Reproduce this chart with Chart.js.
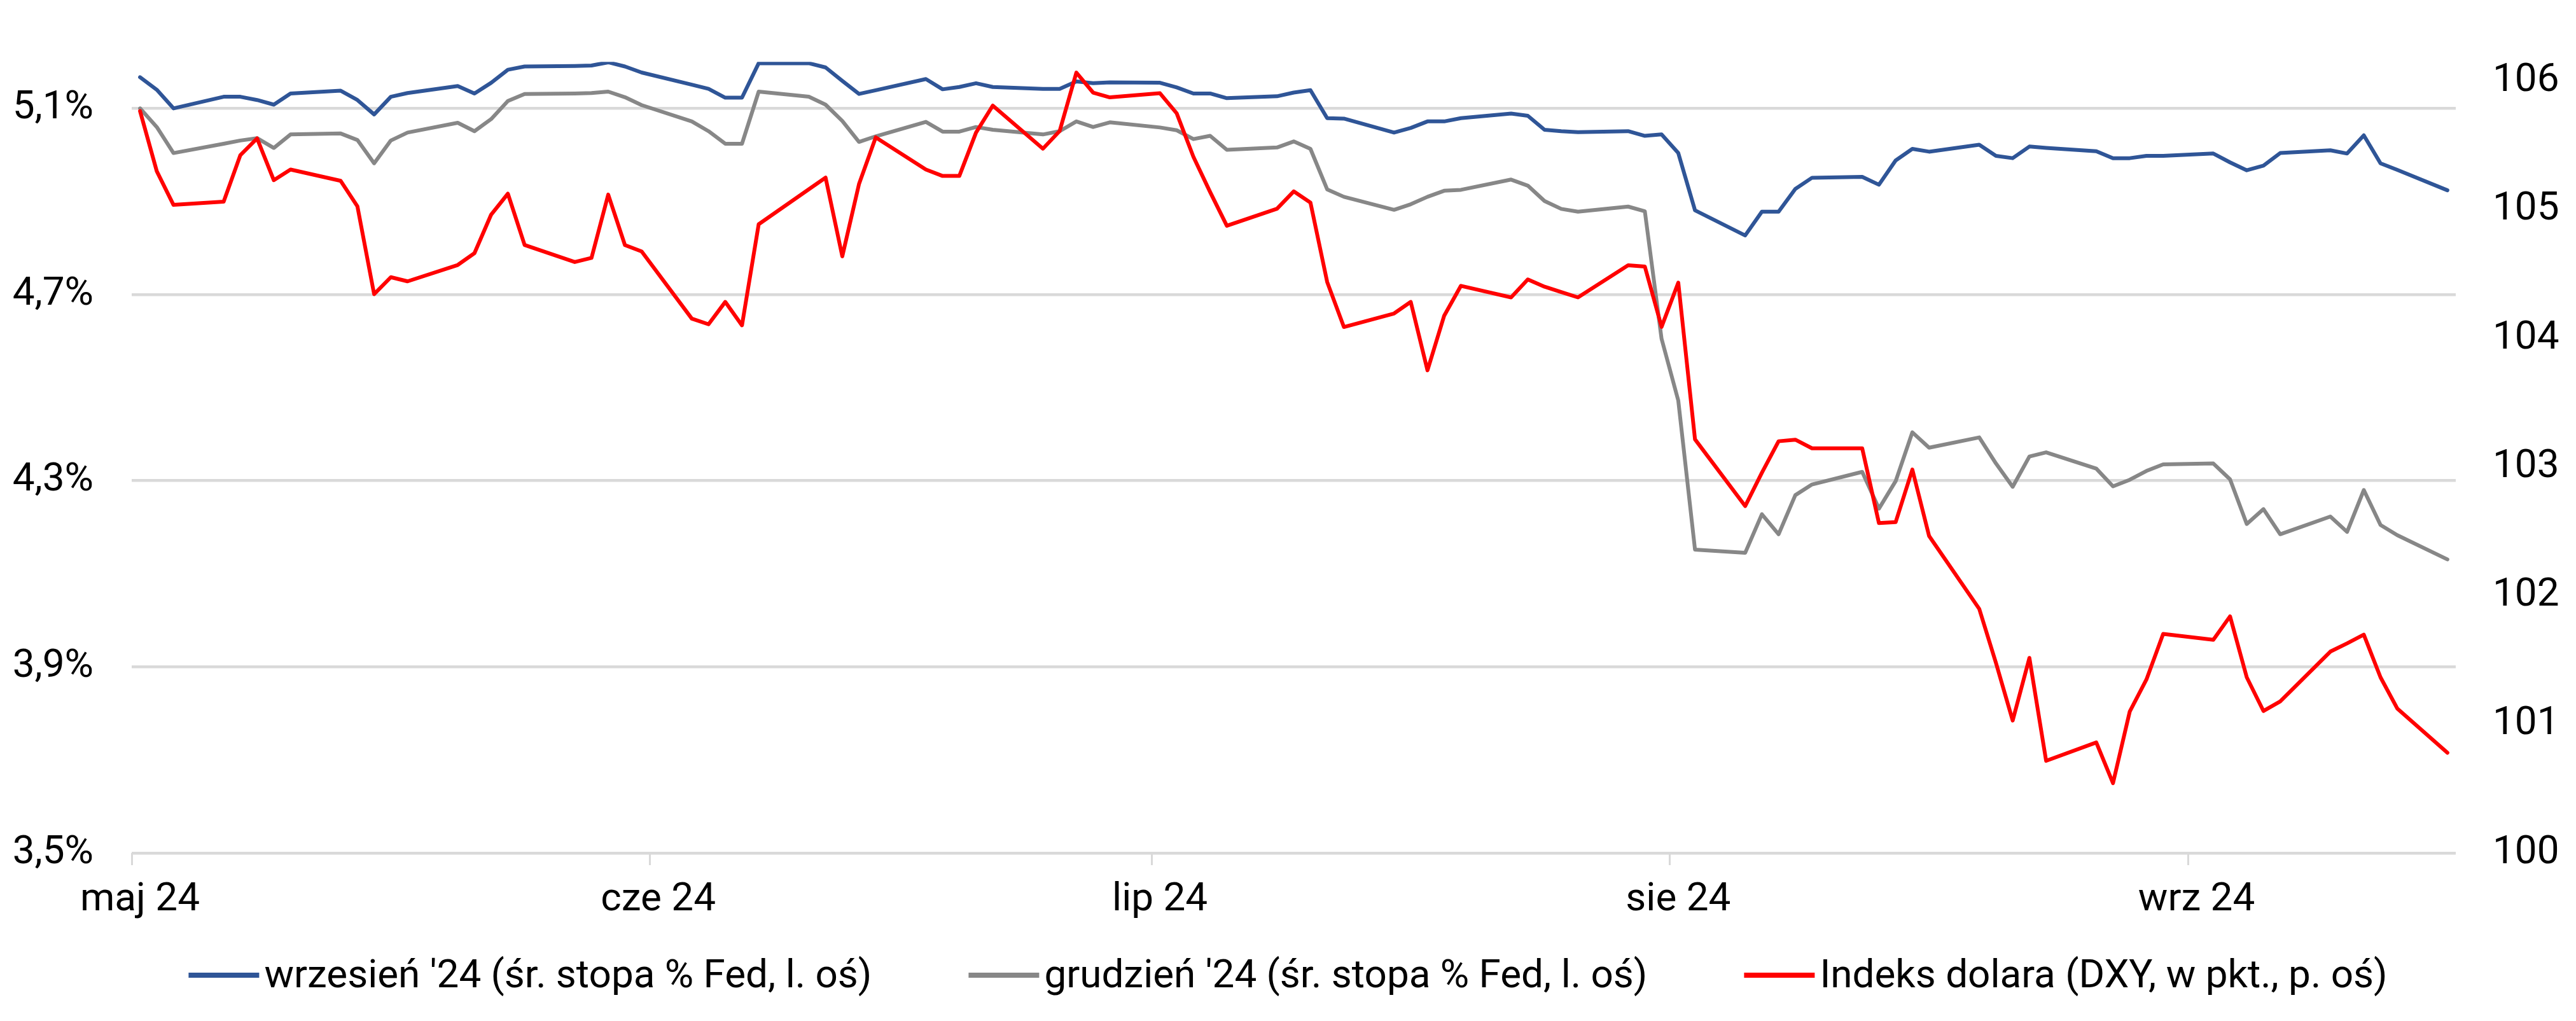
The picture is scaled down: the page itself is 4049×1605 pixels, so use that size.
<!DOCTYPE html>
<html>
<head>
<meta charset="utf-8">
<script src="https://cdn.jsdelivr.net/npm/chart.js@4.4.1/dist/chart.umd.min.js"></script>
<style>
  body { margin: 0; background: #fff; }
  #wrap { width: 4049px; height: 1605px; }
</style>
</head>
<body>
<div id="wrap"><canvas id="myChart"></canvas></div>
<script>
const dates = [
  '2024-05-01','2024-05-02','2024-05-03','2024-05-06','2024-05-07','2024-05-08','2024-05-09','2024-05-10','2024-05-13','2024-05-14',
  '2024-05-15','2024-05-16','2024-05-17','2024-05-20','2024-05-21','2024-05-22','2024-05-23','2024-05-24','2024-05-27','2024-05-28',
  '2024-05-29','2024-05-30','2024-05-31','2024-06-03','2024-06-04','2024-06-05','2024-06-06','2024-06-07','2024-06-10','2024-06-11',
  '2024-06-12','2024-06-13','2024-06-14','2024-06-17','2024-06-18','2024-06-19','2024-06-20','2024-06-21','2024-06-24','2024-06-25',
  '2024-06-26','2024-06-27','2024-06-28','2024-07-01','2024-07-02','2024-07-03','2024-07-04','2024-07-05','2024-07-08','2024-07-09',
  '2024-07-10','2024-07-11','2024-07-12','2024-07-15','2024-07-16','2024-07-17','2024-07-18','2024-07-19','2024-07-22','2024-07-23',
  '2024-07-24','2024-07-25','2024-07-26','2024-07-29','2024-07-30','2024-07-31','2024-08-01','2024-08-02','2024-08-05','2024-08-06',
  '2024-08-07','2024-08-08','2024-08-09','2024-08-12','2024-08-13','2024-08-14','2024-08-15','2024-08-16','2024-08-19','2024-08-20',
  '2024-08-21','2024-08-22','2024-08-23','2024-08-26','2024-08-27','2024-08-28','2024-08-29','2024-08-30','2024-09-02','2024-09-03',
  '2024-09-04','2024-09-05','2024-09-06','2024-09-09','2024-09-10','2024-09-11','2024-09-12','2024-09-13','2024-09-16'
];

// wrzesień '24 - implied Fed rate, left axis
const septRate = [
  5.167,5.140,5.100,5.125,5.125,5.118,5.108,5.132,5.138,5.118,
  5.087,5.125,5.133,5.148,5.132,5.155,5.183,5.190,5.191,5.192,
  5.199,5.190,5.177,5.151,5.142,5.123,5.123,5.197,5.197,5.188,
  5.159,5.131,5.139,5.163,5.141,5.146,5.154,5.146,5.142,5.142,
  5.158,5.154,5.156,5.155,5.145,5.132,5.132,5.122,5.126,5.134,
  5.139,5.079,5.078,5.048,5.058,5.072,5.072,5.079,5.089,5.084,
  5.054,5.051,5.049,5.051,5.041,5.044,5.004,4.881,4.827,4.878,
  4.878,4.927,4.951,4.953,4.936,4.988,5.013,5.007,5.022,4.998,
  4.993,5.018,5.015,5.008,4.993,4.993,4.998,4.998,5.003,4.984,
  4.967,4.977,5.004,5.010,5.003,5.042,4.982,4.968,4.924
];

// grudzień '24 - implied Fed rate, left axis
const decRate = [
  5.100,5.060,5.004,5.024,5.031,5.036,5.015,5.044,5.046,5.032,
  4.982,5.031,5.048,5.069,5.051,5.077,5.116,5.131,5.132,5.133,
  5.136,5.124,5.107,5.072,5.051,5.024,5.024,5.136,5.125,5.108,
  5.073,5.028,5.040,5.071,5.050,5.050,5.060,5.054,5.044,5.051,
  5.072,5.060,5.070,5.059,5.053,5.034,5.041,5.011,5.016,5.029,
  5.013,4.926,4.910,4.882,4.894,4.910,4.923,4.925,4.947,4.934,
  4.901,4.884,4.878,4.889,4.879,4.605,4.472,4.152,4.145,4.228,
  4.185,4.269,4.292,4.319,4.240,4.299,4.404,4.371,4.393,4.337,
  4.287,4.352,4.361,4.326,4.288,4.302,4.321,4.335,4.337,4.303,
  4.207,4.239,4.185,4.223,4.190,4.280,4.205,4.183,4.131
];

// DXY, right axis
const dxy = [
  105.767,105.300,105.038,105.063,105.425,105.555,105.230,105.313,105.225,105.027,
  104.344,104.476,104.444,104.571,104.663,104.963,105.125,104.726,104.594,104.626,
  105.118,104.726,104.676,104.154,104.110,104.284,104.102,104.888,105.160,105.250,
  104.638,105.200,105.563,105.313,105.263,105.263,105.600,105.810,105.475,105.612,
  106.066,105.911,105.874,105.906,105.750,105.412,105.138,104.876,105.008,105.143,
  105.056,104.439,104.089,104.194,104.284,103.752,104.177,104.409,104.319,104.459,
  104.402,104.360,104.319,104.569,104.559,104.090,104.434,103.216,102.697,102.956,
  103.201,103.213,103.146,103.146,102.565,102.572,102.981,102.465,101.898,101.478,
  101.030,101.517,100.717,100.860,100.543,101.099,101.349,101.703,101.658,101.840,
  101.366,101.104,101.179,101.566,101.630,101.698,101.366,101.124,100.780
];

const monthLabels = ['maj 24', 'cze 24', 'lip 24', 'sie 24', 'wrz 24'];
const monthStarts = ['2024-05-01', '2024-06-01', '2024-07-01', '2024-08-01', '2024-09-01'];
const leftTicks = [3.5, 3.9, 4.3, 4.7, 5.1];
const rightTicks = [100, 101, 102, 103, 104, 105, 106];

const seriesNames = [
  "wrzesień '24 (śr. stopa % Fed, l. oś)",
  "grudzień '24 (śr. stopa % Fed, l. oś)",
  'Indeks dolara (DXY, w pkt., p. oś)'
];

const FONT = 'Roboto';
const FONT_SIZE = 62;

// days since 1 May, points sit in the middle of their day slot
const startUTC = Date.UTC(2024, 4, 1);
function dayNo(s) {
  const p = s.split('-').map(Number);
  return (Date.UTC(p[0], p[1] - 1, p[2]) - startUTC) / 864e5;
}
const xs = dates.map(d => dayNo(d) + 0.5);
const toPoints = vals => vals.map((v, i) => ({ x: xs[i], y: v }));

const bottomLegend = {
  id: 'bottomLegend',
  afterDraw(chart) {
    const ctx = chart.ctx;
    const swatchW = 111, swatchH = 8, gap = 8, spacing = 152;
    const baseY = 1552;
    ctx.save();
    ctx.font = `${FONT_SIZE}px ${FONT}`;
    ctx.textBaseline = 'alphabetic';
    const items = chart.data.datasets.map(ds => ({
      text: ds.label,
      color: ds.borderColor,
      w: ctx.measureText(ds.label).width
    }));
    const total = items.reduce((s, it) => s + swatchW + gap + it.w, 0) + spacing * (items.length - 1);
    let x = (chart.width - total) / 2;
    items.forEach(it => {
      ctx.fillStyle = it.color;
      ctx.fillRect(x, 1529, swatchW, swatchH);
      x += swatchW + gap;
      ctx.fillStyle = '#000';
      ctx.fillText(it.text, x, baseY);
      x += it.w + spacing;
    });
    ctx.restore();
  }
};

Chart.defaults.font.family = FONT;
Chart.defaults.font.size = FONT_SIZE;
Chart.defaults.color = '#000';

const ctx = document.getElementById('myChart').getContext('2d');
new Chart(ctx, {
  type: 'line',
  data: {
    datasets: [
      { label: seriesNames[0], data: toPoints(septRate), yAxisID: 'y', borderColor: '#2F5597', order: 2 },
      { label: seriesNames[1], data: toPoints(decRate), yAxisID: 'y', borderColor: '#878787', order: 1 },
      { label: seriesNames[2], data: toPoints(dxy), yAxisID: 'y1', borderColor: '#FF0000', order: 0 }
    ]
  },
  options: {
    responsive: true,
    maintainAspectRatio: false,
    animation: false,
    devicePixelRatio: 1,
    layout: { padding: { top: 84, left: 0, right: 0, bottom: 0 } },
    elements: {
      line: { borderWidth: 6, tension: 0, borderJoinStyle: 'round', borderCapStyle: 'round', fill: false },
      point: { radius: 0, hoverRadius: 0 }
    },
    plugins: {
      legend: { display: false },
      tooltip: { enabled: false }
    },
    scales: {
      x: {
        type: 'linear',
        min: 0,
        max: 139,
        afterBuildTicks: scale => { scale.ticks = monthStarts.map(m => ({ value: dayNo(m) })); },
        afterFit: scale => { scale.height = 264; },
        ticks: {
          callback: (value, i) => monthLabels[i],
          labelOffset: 13,
          padding: 18,
          maxRotation: 0,
          autoSkip: false
        },
        grid: { drawOnChartArea: false, drawTicks: true, tickLength: 19, color: '#d9d9d9', lineWidth: 3 },
        border: { display: false }
      },
      y: {
        position: 'left',
        min: 3.5,
        max: 5.2,
        afterBuildTicks: scale => { scale.ticks = leftTicks.map(v => ({ value: v })); },
        afterFit: scale => { scale.width = 207; },
        ticks: {
          padding: 60,
          callback: v => v.toFixed(1).replace('.', ',') + '%'
        },
        grid: { color: '#d9d9d9', lineWidth: 4.5, drawTicks: false },
        border: { display: false }
      },
      y1: {
        position: 'right',
        min: 100,
        max: 106.15,
        afterBuildTicks: scale => { scale.ticks = rightTicks.map(v => ({ value: v })); },
        afterFit: scale => { scale.width = 189; },
        ticks: { padding: 58, callback: v => String(v) },
        grid: { display: false, drawTicks: false },
        border: { display: false }
      }
    }
  },
  plugins: [bottomLegend]
});
</script>
</body>
</html>
